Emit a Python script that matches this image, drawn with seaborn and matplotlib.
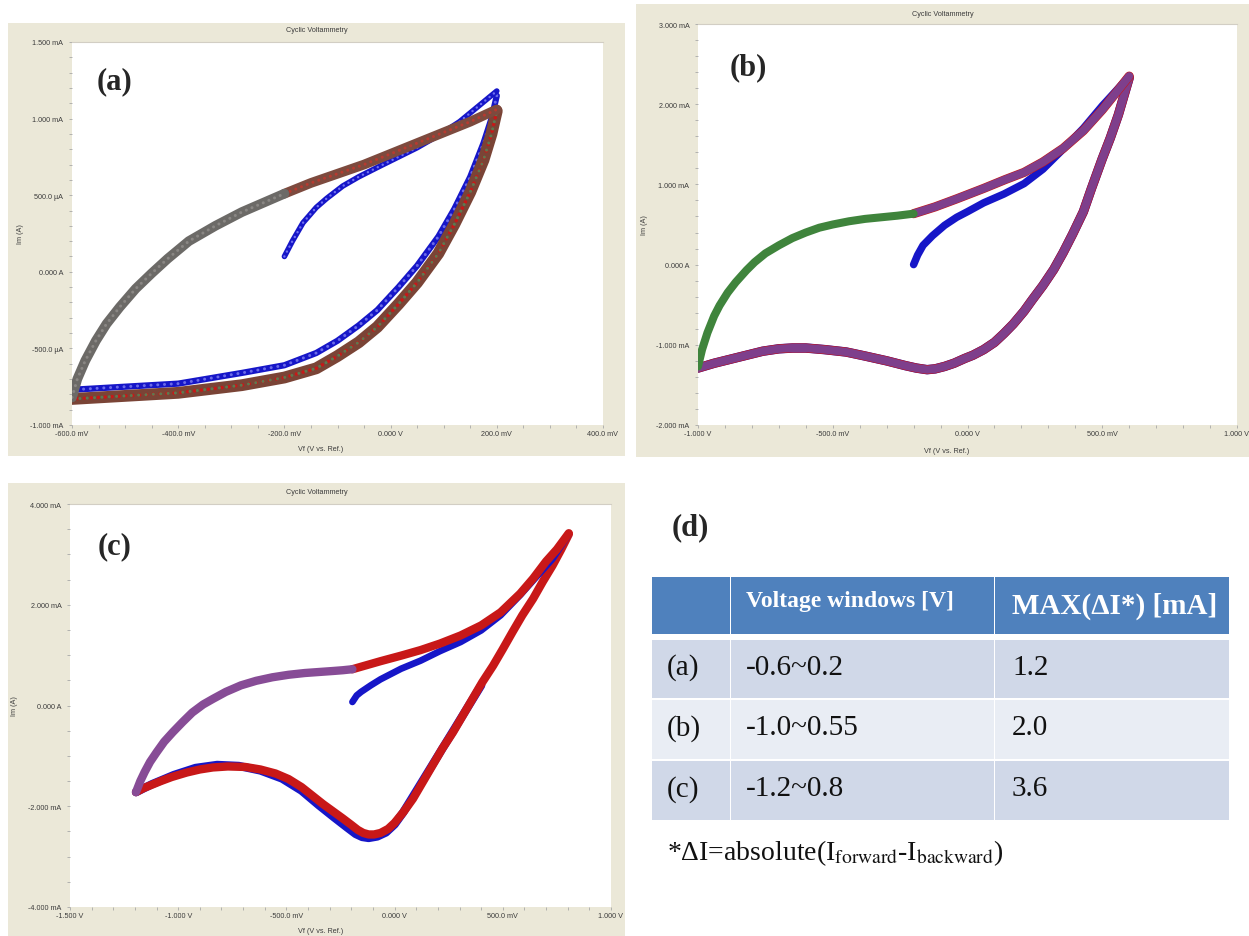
import numpy as np
import matplotlib
matplotlib.use("Agg")
import matplotlib.pyplot as plt
import seaborn as sns
from matplotlib.patches import Rectangle

sns.set_theme(style="white")
plt.rcParams["font.family"] = ["Liberation Sans", "DejaVu Sans"]
plt.rcParams["mathtext.fontset"] = "stix"

# ---------------------------------------------------------------- data (V, mA)
# (a) window -0.6 .. 0.2 V
A_FIRST_V = [-0.200, -0.185, -0.165, -0.140, -0.120, -0.090, -0.060, -0.020, 0.015, 0.050, 0.090, 0.130, 0.165, 0.200]
A_FIRST_I = [0.10, 0.20, 0.32, 0.42, 0.48, 0.56, 0.62, 0.69, 0.75, 0.81, 0.89, 0.98, 1.08, 1.18]
A_REV1_V = [0.200, 0.190, 0.175, 0.150, 0.120, 0.090, 0.050, 0.015, -0.025, -0.060, -0.100, -0.140, -0.200, -0.280, -0.400, -0.500, -0.600]
A_REV1_I = [1.15, 1.00, 0.84, 0.62, 0.41, 0.23, 0.04, -0.10, -0.25, -0.35, -0.45, -0.53, -0.61, -0.66, -0.73, -0.75, -0.77]
A_REV_V = [0.200, 0.190, 0.175, 0.150, 0.120, 0.090, 0.050, 0.015, -0.025, -0.060, -0.100, -0.140, -0.200, -0.280, -0.400, -0.500, -0.600]
A_REV_I = [1.05, 0.90, 0.73, 0.52, 0.31, 0.12, -0.07, -0.21, -0.36, -0.46, -0.55, -0.63, -0.69, -0.74, -0.79, -0.81, -0.83]
A_FWD_LO_V = [-0.600, -0.590, -0.575, -0.555, -0.535, -0.510, -0.480, -0.450, -0.420, -0.380, -0.330, -0.280, -0.240, -0.200]
A_FWD_LO_I = [-0.82, -0.70, -0.58, -0.45, -0.34, -0.23, -0.11, -0.01, 0.085, 0.20, 0.30, 0.39, 0.45, 0.51]
A_FWD_HI_V = [-0.200, -0.150, -0.100, -0.050, 0.000, 0.050, 0.100, 0.150, 0.200]
A_FWD_HI_I = [0.51, 0.58, 0.64, 0.70, 0.77, 0.84, 0.91, 0.98, 1.06]

# (b) window -1.0 .. 0.6 V
B_FIRST_V = [-0.200, -0.185, -0.165, -0.130, -0.085, -0.040, 0.000, 0.060, 0.135, 0.210, 0.280, 0.355, 0.430, 0.500, 0.560, 0.600]
B_FIRST_I = [0.00, 0.12, 0.24, 0.36, 0.49, 0.59, 0.66, 0.77, 0.88, 1.01, 1.19, 1.44, 1.70, 1.98, 2.20, 2.35]
B_FWD_HI_V = [-0.200, -0.120, -0.040, 0.060, 0.140, 0.210, 0.280, 0.355, 0.430, 0.500, 0.560, 0.600]
B_FWD_HI_I = [0.635, 0.72, 0.82, 0.95, 1.06, 1.15, 1.28, 1.45, 1.67, 1.93, 2.18, 2.35]
B_FWD_LO_V = [-1.000, -0.985, -0.965, -0.940, -0.920, -0.890, -0.860, -0.820, -0.790, -0.750, -0.700, -0.650,
              -0.600, -0.550, -0.500, -0.440, -0.380, -0.320, -0.260, -0.200]
B_FWD_LO_I = [-1.27, -1.06, -0.85, -0.64, -0.51, -0.35, -0.22, -0.07, 0.03, 0.14, 0.24, 0.33,
              0.40, 0.46, 0.50, 0.54, 0.57, 0.59, 0.61, 0.635]
B_REV_V = [0.600, 0.580, 0.560, 0.530, 0.500, 0.460, 0.430, 0.390, 0.355, 0.320, 0.280, 0.240, 0.210, 0.170,
           0.135, 0.100, 0.060, 0.020, -0.010, -0.050, -0.085, -0.120, -0.150, -0.190, -0.230, -0.300, -0.380,
           -0.450, -0.530, -0.600, -0.650, -0.700, -0.760, -0.820, -0.880, -0.940, -1.000]
B_REV_I = [2.33, 2.10, 1.87, 1.58, 1.32, 0.95, 0.66, 0.38, 0.15, -0.06, -0.26, -0.44, -0.58, -0.74,
           -0.86, -0.97, -1.06, -1.13, -1.17, -1.23, -1.27, -1.30, -1.31, -1.29, -1.26, -1.20, -1.14,
           -1.09, -1.06, -1.04, -1.04, -1.05, -1.08, -1.13, -1.18, -1.23, -1.29]

# (c) window -1.2 .. 0.8 V
C_FIRST_V = [-0.195, -0.175, -0.155, -0.110, -0.065, 0.030, 0.120, 0.210, 0.305, 0.400, 0.490, 0.580, 0.640, 0.730, 0.805]
C_FIRST_I = [0.07, 0.20, 0.27, 0.40, 0.52, 0.73, 0.89, 1.08, 1.26, 1.49, 1.79, 2.19, 2.48, 2.91, 3.40]
C_FWD_HI_V = [-0.195, -0.130, -0.065, 0.030, 0.120, 0.210, 0.305, 0.400, 0.490, 0.580, 0.640, 0.700, 0.750, 0.805]
C_FWD_HI_I = [0.72, 0.80, 0.88, 0.99, 1.10, 1.23, 1.39, 1.59, 1.85, 2.22, 2.52, 2.86, 3.10, 3.42]
C_FWD_LO_V = [-1.195, -1.175, -1.155, -1.130, -1.100, -1.065, -1.025, -0.980, -0.935, -0.885, -0.840, -0.780,
              -0.710, -0.640, -0.565, -0.490, -0.415, -0.350, -0.285, -0.240, -0.195]
C_FWD_LO_I = [-1.72, -1.50, -1.32, -1.12, -0.93, -0.72, -0.53, -0.33, -0.14, 0.02, 0.13, 0.27,
              0.40, 0.49, 0.56, 0.61, 0.645, 0.665, 0.685, 0.70, 0.72]
C_REV_V = [0.805, 0.770, 0.730, 0.685, 0.640, 0.590, 0.545, 0.500, 0.455, 0.405, 0.360, 0.315, 0.270, 0.220,
           0.175, 0.130, 0.085, 0.040, 0.000, -0.030, -0.065, -0.095, -0.120, -0.145, -0.170, -0.200, -0.240,
           -0.285, -0.330, -0.380, -0.430, -0.490, -0.550, -0.620, -0.690, -0.770, -0.840, -0.900, -0.960,
           -1.030, -1.080, -1.120, -1.160, -1.195]
C_REV_I = [3.40, 3.10, 2.78, 2.46, 2.12, 1.79, 1.46, 1.12, 0.79, 0.46, 0.13, -0.20, -0.53, -0.86,
           -1.19, -1.52, -1.85, -2.12, -2.33, -2.45, -2.53, -2.56, -2.56, -2.53, -2.47, -2.37, -2.24,
           -2.10, -1.96, -1.79, -1.62, -1.46, -1.35, -1.27, -1.22, -1.21, -1.23, -1.27, -1.33,
           -1.42, -1.50, -1.57, -1.64, -1.72]
C_REV1_V = [0.400, 0.300, 0.200, 0.100, 0.040, 0.000, -0.040, -0.080, -0.120, -0.150, -0.180, -0.220, -0.280,
            -0.350, -0.430, -0.520, -0.620, -0.720, -0.820, -0.920, -1.020, -1.120, -1.195]
C_REV1_I = [0.40, -0.30, -1.00, -1.70, -2.12, -2.36, -2.52, -2.60, -2.63, -2.61, -2.55, -2.42, -2.22,
            -1.98, -1.69, -1.45, -1.29, -1.20, -1.18, -1.24, -1.38, -1.56, -1.72]

# (d) summary table
TABLE_HEADER = ["", "Voltage windows [V]", "MAX(\u0394I*) [mA]"]
TABLE_ROWS = ["(a)", "(b)", "(c)"]
TABLE_WINDOWS = ["-0.6~0.2", "-1.0~0.55", "-1.2~0.8"]
TABLE_MAX_DI = ["1.2", "2.0", "3.6"]

# ---------------------------------------------------------------- figure
W, H = 1249, 937
BEIGE = "#ebe8d8"
TXT = "#3c3c3c"
BLUE = "#1616c8"
RED = "#c81818"

fig = plt.figure(figsize=(W / 100, H / 100), dpi=100, facecolor="white")

# pixel-space canvas for panel frames and the table
bg = fig.add_axes([0, 0, 1, 1])
bg.set_xlim(0, W)
bg.set_ylim(H, 0)
bg.axis("off")


def frac(x0, y0, x1, y1):
    return [x0 / W, 1 - y1 / H, (x1 - x0) / W, (y1 - y0) / H]


def trace(ax, v, i, color, lw, z, ls="-", alpha=1.0):
    sns.lineplot(x=v, y=i, sort=False, estimator=None, color=color, linewidth=lw,
                 linestyle=ls, alpha=alpha, zorder=z, ax=ax,
                 solid_capstyle="round", solid_joinstyle="round", dash_capstyle="round")


def cv_panel(box, plot, xlim, xmaj, xlab, xstep, ylim, ymaj, ylab, ystep,
             title_y, xlabel_y, ylabel_x, tag, tag_xy):
    bx0, by0, bx1, by1 = box
    bg.add_patch(Rectangle((bx0, by0), bx1 - bx0, by1 - by0, color=BEIGE, lw=0, zorder=0))
    ax = fig.add_axes(frac(*plot))
    ax.set_facecolor("white")
    ax.set_xlim(*xlim)
    ax.set_ylim(*ylim)
    ax.set_xticks(xmaj)
    ax.set_xticklabels(xlab)
    ax.set_xticks(np.arange(xlim[0], xlim[1] + 1e-9, xstep), minor=True)
    ax.set_yticks(ymaj)
    ax.set_yticklabels(ylab)
    ax.set_yticks(np.arange(ylim[0], ylim[1] + 1e-9, ystep), minor=True)
    ax.tick_params(which="both", bottom=True, left=True, direction="out", length=2.2,
                   width=0.6, color="#a8a8a8", labelsize=5.2, labelcolor=TXT)
    ax.tick_params(axis="y", which="both", pad=4.0)
    ax.tick_params(axis="x", which="both", pad=1.5)
    for s in ax.spines.values():
        s.set_visible(False)
    ax.spines["top"].set_visible(True)
    ax.spines["top"].set_color("#d2cec4")
    ax.spines["top"].set_linewidth(0.8)
    ax.set_xlabel("")
    ax.set_ylabel("")
    px0, py0, px1, py1 = plot
    cx = (bx0 + bx1) / 2
    bg.text(cx, title_y, "Cyclic Voltammetry", ha="center", va="center", fontsize=5.2, color=TXT, zorder=5)
    bg.text(cx + 4, xlabel_y, "Vf (V vs. Ref.)", ha="center", va="center", fontsize=5.2, color=TXT, zorder=5)
    bg.text(ylabel_x, (py0 + py1) / 2, "Im (A)", ha="center", va="center", rotation=90,
            fontsize=5.2, color=TXT, zorder=5)
    ax.text(*tag_xy, tag, transform=fig.transFigure, fontsize=22, fontweight="bold",
            family=["Liberation Serif", "DejaVu Serif"], ha="center", va="center", zorder=10)
    return ax


# ---- (a)
ax_a = cv_panel((8, 24, 625, 457), (72, 43, 603, 426),
                (-0.6, 0.4), [-0.6, -0.4, -0.2, 0.0, 0.2, 0.4],
                ["-600.0 mV", "-400.0 mV", "-200.0 mV", "0.000 V", "200.0 mV", "400.0 mV"], 0.05,
                (-1.0, 1.5), [-1.0, -0.5, 0.0, 0.5, 1.0, 1.5],
                ["-1.000 mA", "-500.0 \u00b5A", "0.000 A", "500.0 \u00b5A", "1.000 mA", "1.500 mA"], 0.1,
                31, 450, 21, "(a)", (115 / W, 1 - 82 / H))
trace(ax_a, A_REV1_V, A_REV1_I, BLUE, 4.5, 2)
trace(ax_a, A_REV1_V, A_REV1_I, "#6a6ae8", 2.2, 2.1, ls=(0, (0.01, 2.2)))
trace(ax_a, A_REV_V, A_REV_I, "#7a4436", 8.5, 3)
trace(ax_a, A_REV_V, A_REV_I, RED, 2.6, 3.1, ls=(0, (0.01, 1.9)))
trace(ax_a, A_REV_V, A_REV_I, "#5c7a50", 2.2, 3.2, ls=(1.2, (0.01, 2.4)))
trace(ax_a, A_FIRST_V, A_FIRST_I, BLUE, 4.0, 4)
trace(ax_a, A_FIRST_V, A_FIRST_I, "#7070f0", 1.8, 4.1, ls=(0, (0.01, 2.2)))
trace(ax_a, A_FWD_HI_V, A_FWD_HI_I, "#7d4a3e", 7.0, 5)
trace(ax_a, A_FWD_HI_V, A_FWD_HI_I, "#b83a30", 2.2, 5.1, ls=(0, (0.01, 2.0)))
trace(ax_a, A_FWD_LO_V, A_FWD_LO_I, "#6c6a67", 7.0, 6)
trace(ax_a, A_FWD_LO_V, A_FWD_LO_I, "#8a8784", 2.2, 6.1, ls=(0, (0.01, 2.0)))

# ---- (b)
ax_b = cv_panel((636, 5, 1249, 458), (698, 25, 1237, 426),
                (-1.0, 1.0), [-1.0, -0.5, 0.0, 0.5, 1.0],
                ["-1.000 V", "-500.0 mV", "0.000 V", "500.0 mV", "1.000 V"], 0.1,
                (-2.0, 3.0), [-2.0, -1.0, 0.0, 1.0, 2.0, 3.0],
                ["-2.000 mA", "-1.000 mA", "0.000 A", "1.000 mA", "2.000 mA", "3.000 mA"], 0.2,
                14, 452, 645, "(b)", (748 / W, 1 - 68 / H))
trace(ax_b, B_REV_V, B_REV_I, BLUE, 6.8, 2)
trace(ax_b, B_REV_V, B_REV_I, RED, 6.6, 3)
trace(ax_b, B_REV_V, B_REV_I, "#7e3f8c", 5.8, 4)
trace(ax_b, B_FIRST_V, B_FIRST_I, BLUE, 5.4, 5)
trace(ax_b, B_FWD_HI_V, B_FWD_HI_I, RED, 6.6, 6)
trace(ax_b, B_FWD_HI_V, B_FWD_HI_I, "#7e3f8c", 5.8, 7)
trace(ax_b, B_FWD_LO_V, B_FWD_LO_I, "#3f843c", 5.8, 8)

# ---- (c)
ax_c = cv_panel((8, 484, 625, 937), (70, 505, 611, 908),
                (-1.5, 1.0), [-1.5, -1.0, -0.5, 0.0, 0.5, 1.0],
                ["-1.500 V", "-1.000 V", "-500.0 mV", "0.000 V", "500.0 mV", "1.000 V"], 0.1,
                (-4.0, 4.0), [-4.0, -2.0, 0.0, 2.0, 4.0],
                ["-4.000 mA", "-2.000 mA", "0.000 A", "2.000 mA", "4.000 mA"], 0.5,
                493, 932, 15, "(c)", (115 / W, 1 - 547 / H))
trace(ax_c, C_REV1_V, C_REV1_I, BLUE, 6.0, 2)
trace(ax_c, C_REV_V, C_REV_I, RED, 6.0, 3)
trace(ax_c, C_FIRST_V, C_FIRST_I, BLUE, 4.8, 4)
trace(ax_c, C_FWD_HI_V, C_FWD_HI_I, RED, 6.0, 5)
trace(ax_c, C_FWD_LO_V, C_FWD_LO_I, "#874c96", 6.0, 6)

# ---- (d) table
SERIF = ["Liberation Serif", "DejaVu Serif"]
bg.text(690, 528, "(d)", fontsize=22, fontweight="bold", family=SERIF, ha="center", va="center")
col_edges = [652, 730, 994, 1229]
row_edges = [(578, 635), (641, 699), (701, 760), (762, 821)]
row_colors = ["#4f81bd", "#d0d8e8", "#e9edf4", "#d0d8e8"]
for r, ((y0, y1), fc) in enumerate(zip(row_edges, row_colors)):
    for c in range(3):
        x0, x1 = col_edges[c], col_edges[c + 1]
        bg.add_patch(Rectangle((x0 + (1 if c else 0), y0), x1 - x0 - (1 if c else 0), y1 - y0,
                               color=fc, lw=0, zorder=1))
text_x = [667, 746, 1012]
bg.text(text_x[1], 602, TABLE_HEADER[1], fontsize=17, fontweight="bold", family=SERIF,
        color="white", ha="left", va="center", zorder=3)
bg.text(text_x[2], 606, TABLE_HEADER[2], fontsize=21, fontweight="bold", family=SERIF,
        color="white", ha="left", va="center", zorder=3)
for (y0, y1), lab, win, mx in zip(row_edges[1:], TABLE_ROWS, TABLE_WINDOWS, TABLE_MAX_DI):
    yc = (y0 + y1) / 2 - 2
    for x, s in zip(text_x, (lab, win, mx)):
        bg.text(x, yc, s, fontsize=21, family=SERIF, color="#111111", ha="left", va="center", zorder=3)
bg.text(667, 853, "*\u0394I=absolute(I$_{\\mathrm{forward}}$-I$_{\\mathrm{backward}}$)",
        fontsize=20, family=SERIF, color="#111111", ha="left", va="center", zorder=3)

fig.savefig("out.png", dpi=100, facecolor="white")
